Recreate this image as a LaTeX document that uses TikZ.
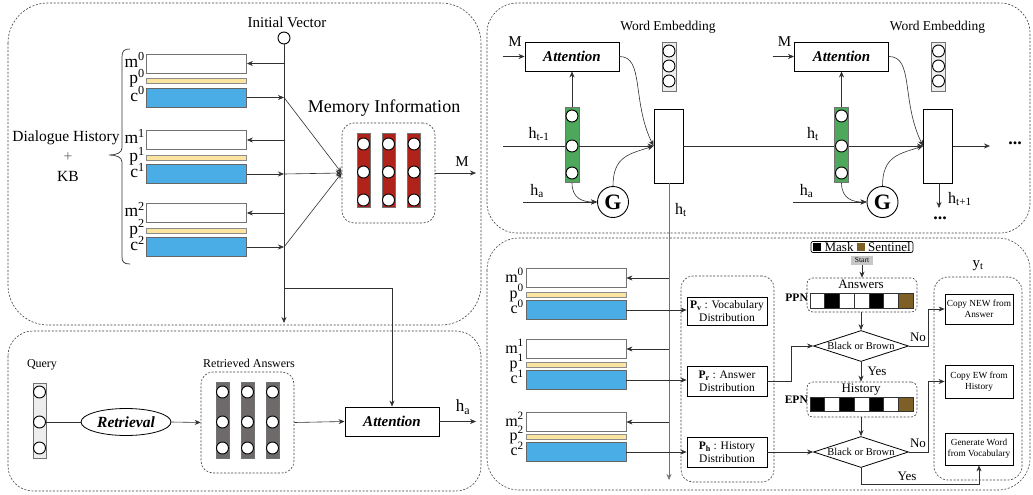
\documentclass[tikz,border=0pt]{standalone}
\usepackage{fontspec}
\setmainfont{Liberation Serif}
\usetikzlibrary{arrows.meta,shapes.geometric}
\definecolor{cblue}{HTML}{4AADE6}
\definecolor{pyel}{HTML}{FBE3A0}
\definecolor{mred}{HTML}{B0231B}
\definecolor{ggreen}{HTML}{4EA85B}
\definecolor{rgray}{HTML}{6E6A6A}
\definecolor{sbrown}{HTML}{7E5F26}
\definecolor{lgray}{HTML}{EDEDED}
\definecolor{lin}{HTML}{303030}
\newcommand\fs[1]{\fontsize{#1}{#1}\selectfont}
\tikzset{
 panel/.style={draw=black!75, line width=0.6pt, dash pattern=on 2pt off 1.6pt},
 dbox/.style={draw=black!75, line width=0.6pt, dash pattern=on 2pt off 1.6pt, rounded corners=12pt, inner sep=0pt},
 mbox/.style={draw=black!55, line width=0.8pt, fill=white, minimum width=100pt, minimum height=19pt, inner sep=0pt},
 pbar/.style={draw=black!45, line width=0.6pt, fill=pyel, minimum width=100pt, minimum height=5pt, inner sep=0pt},
 cbox/.style={draw=black!60, line width=0.8pt, fill=cblue, minimum width=100pt, minimum height=19pt, inner sep=0pt},
 mlab/.style={anchor=base east, inner sep=0pt, font=\fs{17.5}},
 colm/.style={draw=black!55, line width=0.6pt, minimum width=13pt, inner sep=0pt},
 nd/.style={circle, draw=black, line width=0.9pt, fill=white, minimum size=12pt, inner sep=0pt},
 arr/.style={draw=lin, line width=0.6pt, -{Stealth[length=6pt,width=5pt]}},
 ln/.style={draw=lin, line width=0.6pt},
 sbox/.style={draw=black, line width=0.9pt, fill=white, inner sep=0pt},
 att/.style={sbox, minimum width=94pt, minimum height=29pt, font=\fs{15}\bfseries\itshape},
 txt/.style={inner sep=0pt},
 cellsq/.style={draw=black!80, line width=0.6pt, minimum width=14.71pt, inner sep=0pt},
 pbox/.style={sbox, line width=0.8pt, minimum width=80pt, align=center, font=\fontsize{11.5}{13}\selectfont},
 ybox/.style={sbox, line width=0.8pt, minimum width=68pt, align=center, font=\fontsize{9.3}{11}\selectfont},
 dia/.style={diamond, draw=black, line width=0.8pt, aspect=3, inner sep=0pt, minimum width=95pt, minimum height=31pt, font=\fs{10.5}},
}
\begin{document}
\begin{tikzpicture}[x=1pt,y=-1pt]
\useasboundingbox (0,0) rectangle (1033,495);
\fill[white] (0,0) rectangle (1033,495);
% panels
\draw[panel, rounded corners=40pt] (8,3) rectangle (481,325);
\draw[panel, rounded corners=25pt] (8,331) rectangle (481,491);
\draw[panel, rounded corners=30pt] (487,3) rectangle (1030,233);
\draw[panel, rounded corners=32pt] (487,238) rectangle (1030,490);

% ---------------- top-left: memory ----------------
\node[nd] (iv) at (284,38) {};
\node[txt, font=\fs{15}] (ivt) at (287,22) {Initial Vector};
\coordinate (vbot) at (284,323);
\coordinate (br) at (284,288);
\draw[arr] (iv.south) -- (vbot);
\node[dbox, minimum width=93pt, minimum height=100pt] (mem) at (388.5,173) {};
\node[txt, font=\fs{18}] (memt) at (384,108) {Memory Information};
\foreach \x [count=\k] in {363.5,388.5,414}{
  \node[colm, fill=mred, minimum height=74pt] (mc\k) at (\x,170) {};
  \foreach \y [count=\j] in {144,172,200} \node[nd] (mc\k\j) at (\x,\y) {};
}
\foreach \i/\ym/\yp/\yc in {0/63.5/80.5/97.5,1/140/158/174,2/213/230.5/247}{
  \node[mbox] (m\i) at (196.5,\ym) {};
  \node[pbar] (p\i) at (196.5,\yp) {};
  \node[cbox] (c\i) at (196.5,\yc) {};
  \node[mlab] (ml\i) at (145,\ym+3.5) {m\textsuperscript{\i}};
  \node[mlab] (pl\i) at (145,\yp+3.5) {p\textsuperscript{\i}};
  \node[mlab] (cl\i) at (145,\yc+3.5) {c\textsuperscript{\i}};
  \draw[arr] (iv |- m\i.east) -- (m\i.east);
  \draw[arr] (c\i.east) -- (iv |- c\i.east);
  \draw[arr] (iv |- c\i.east) -- (mem.west);
}
\coordinate (Mout) at (476,173);
\draw[arr] (mem.east) -- (Mout);
\node[txt, font=\fs{15}] (Mlab) at (462,162) {M};
\draw[line width=0.7pt, draw=black!80] (130,49) .. controls (124,49) and (122,51) .. (122,57) -- (122,148) .. controls (122,153) and (116,155) .. (109,155) .. controls (116,155) and (122,157) .. (122,162) -- (122,257) .. controls (122,262) and (124,264) .. (130,264);
\node[txt, font=\fs{15.5}] (dh) at (66,138) {Dialogue History};
\node[txt, font=\fs{15.5}, text=black!60] (plus) at (68,157) {+};
\node[txt, font=\fs{15.5}] (kb) at (68,176) {KB};

% ---------------- bottom-left: retrieval ----------------
\node[txt, font=\fs{12}] (qt) at (42,365) {Query};
\node[colm, fill=lgray, minimum height=75pt] (qbar) at (39.5,420.5) {};
\foreach \y [count=\j] in {392,422,448} \node[nd] (q\j) at (39.5,\y) {};
\node[ellipse, draw=black, line width=0.8pt, minimum width=90pt, minimum height=27pt, inner sep=0pt, font=\fs{15.5}\bfseries\itshape] (ret) at (126,422) {Retrieval};
\node[dbox, minimum width=93pt, minimum height=101pt] (ra) at (247.5,422.5) {};
\node[txt, font=\fs{12}] (rat) at (249,363) {Retrieved Answers};
\foreach \x [count=\k] in {222.5,247.5,272.5}{
  \node[colm, fill=rgray, minimum height=76pt] (rc\k) at (\x,420) {};
  \foreach \y [count=\j] in {392,422,448} \node[nd] (rc\k\j) at (\x,\y) {};
}
\node[att] (att0) at (392,421.5) {Attention};
\coordinate (haend) at (476,421.5);
\node[txt, font=\fs{17}] (hab) at (463,407) {h\textsubscript{a}};
\draw[ln] (q2.east) -- (ret.west);
\draw[arr] (ret.east) -- (ra.west);
\draw[arr] (ra.east) -- (att0.west);
\draw[arr] (att0.east) -- (haend);
\draw[arr] (br) -| (att0.north);

% ---------------- top-right: decoder ----------------
\foreach \dx/\k in {0/1,269.5/2}{
  \node[att] (a\k) at (572+\dx,56.5) {Attention};
  \node[txt, font=\fs{15}] (Ml\k) at (515+\dx,42) {M};
  \coordinate (Min\k) at (503+\dx,56.5);
  \node[txt, font=\fs{13.5}] (we\k) at (668+\dx,27) {Word Embedding};
  \node[colm, fill=lgray, minimum width=14pt, minimum height=49pt] (web\k) at (669+\dx,66.5) {};
  \foreach \y [count=\j] in {51,66,81} \node[nd] (we\k\j) at (669+\dx,\y) {};
  \node[colm, fill=ggreen, minimum width=14pt, minimum height=75pt] (gb\k) at (572+\dx,145) {};
  \foreach \y [count=\j] in {116,146,173} \node[nd] (gc\k\j) at (572+\dx,\y) {};
  \node[sbox, minimum width=29pt, minimum height=74pt] (cell\k) at (668.5+\dx,146) {};
  \node[circle, draw=black, line width=0.9pt, fill=white, minimum size=31pt, inner sep=0pt, font=\fs{22}\bfseries] (G\k) at (613+\dx,202) {G};
  \coordinate (ha\k) at (523+\dx,202);
  \node[txt, font=\fs{16}] (hal\k) at (537+\dx,191) {h\textsubscript{a}};
  \draw[arr] (Min\k) -- (a\k.west);
  \draw[arr] (gb\k.north) -- (a\k.south);
  \draw[arr] (a\k.east) .. controls +(25,0) and +(-22,-45) .. (cell\k.west);
  \draw[arr] (gb\k.south) .. controls +(0,16) and +(-14,0) .. (G\k.west);
  \draw[arr] (G\k.north) .. controls +(0,-30) and +(-24,8) .. (cell\k.west);
  \draw[arr] (ha\k) -- (G\k.west);
}
\coordinate (hin) at (503,146);
\draw[ln] (hin) -- (hin -| gb1.west);
\draw[arr] (hin -| gb1.east) -- (cell1.west);
\draw[ln] (cell1.east) -- (hin -| gb2.west);
\draw[arr] (hin -| gb2.east) -- (cell2.west);
\node[txt, font=\fs{16}] (htm) at (539,134) {h\textsubscript{t-1}};
\node[txt, font=\fs{16}] (htl) at (813,134) {h\textsubscript{t}};
\coordinate (out) at (990,146);
\draw[arr] (cell2.east) -- (out);
\node[txt, font=\fs{18}\bfseries] (dots1) at (1015,143) {...};
\coordinate (hn) at (939,208);
\draw[arr] (cell2.south -| hn) -- (hn);
\node[txt, font=\fs{16}] (hnl) at (960,199) {h\textsubscript{t+1}};
\node[txt, font=\fs{18}\bfseries] (dots2) at (940,218) {...};
\coordinate (htend) at (669,480);
\draw[arr, draw=black!55] (cell1.south -| htend) -- (htend);
\node[txt, font=\fs{16}] (htv) at (681,210) {h\textsubscript{t}};

% ---------------- bottom-right: pointer ----------------
\node[dbox, minimum width=93pt, minimum height=206pt] (pd) at (727.5,379) {};
\node[pbox, minimum height=28pt] (Pv) at (727,311) {\textbf{P}\textsubscript{\textbf{v}} : Vocabulary\\Distribution};
\node[pbox, minimum height=30pt] (Pr) at (727,381) {\textbf{P}\textsubscript{\textbf{r}} : Answer\\Distribution};
\node[pbox, minimum height=30pt] (Ph) at (727,452) {\textbf{P}\textsubscript{\textbf{h}} : History\\Distribution};
\foreach \i/\ym/\yp/\yc/\P in {0/278/294.5/310/Pv,1/349/364.5/380/Pr,2/422/436.5/452/Ph}{
  \node[mbox] (mr\i) at (576,\ym) {};
  \node[pbar] (pb\i) at (576,\yp) {};
  \node[cbox] (cr\i) at (576,\yc) {};
  \node[mlab, font=\fs{16}] (mrl\i) at (524,\ym+4) {m\textsuperscript{\i}};
  \node[mlab, font=\fs{16}] (prl\i) at (524,\yp+3.5) {p\textsuperscript{\i}};
  \node[mlab, font=\fs{16}] (crl\i) at (524,\yc+3.5) {c\textsuperscript{\i}};
  \draw[arr] (htend |- mr\i.east) -- (mr\i.east);
  \draw[arr] (cr\i.east) -- (cr\i.east -| \P.west);
}

% legend and start
\node[draw=black, line width=0.7pt, rounded corners=2pt, inner xsep=2pt, inner ysep=0pt, minimum width=102pt, minimum height=11pt, font=\fs{13}] (leg) at (862,247) {\textcolor{black}{\rule{8pt}{8pt}} Mask \textcolor{sbrown}{\rule{8pt}{8pt}} Sentinel};
\node[fill=black!22, minimum width=22pt, minimum height=9.5pt, inner sep=0pt, font=\fs{7.5}] (st) at (862,260.5) {Start};

% answers box
\node[dbox, rounded corners=6pt, minimum width=110pt, minimum height=34pt] (ans) at (862,295) {};
\node[txt, font=\fs{13}] (anst) at (861,284.5) {Answers};
\foreach \c [count=\j from 0] in {white,black,white,white,black,white,sbrown}
  \node[cellsq, fill=\c, minimum height=15pt] (ac\j) at (810+7.36+\j*14.71,300.5) {};
\node[txt, anchor=east, font=\fs{11.5}\bfseries] (ppn) at (808,298) {PPN};
\node[dia] (d1) at (861,346) {Black or Brown};
% history box
\node[dbox, rounded corners=6pt, minimum width=110pt, minimum height=35pt] (hist) at (862,399.5) {};
\node[txt, font=\fs{13}] (histt) at (861,390) {History};
\foreach \c [count=\j from 0] in {black,white,black,white,black,white,sbrown}
  \node[cellsq, fill=\c, minimum height=14pt] (hc\j) at (810+7.36+\j*14.71,404) {};
\node[txt, anchor=east, font=\fs{11.5}\bfseries] (epn) at (808,400) {EPN};
\node[dia] (d2) at (861,452) {Black or Brown};

% output box
\node[dbox, rounded corners=14pt, minimum width=88pt, minimum height=203pt] (ytb) at (978,378.5) {};
\node[txt, font=\fs{15}] (ytl) at (978,266) {y\textsubscript{t}};
\node[ybox, minimum height=30pt] (cn) at (979,309) {Copy NEW from\\Answer};
\node[ybox, minimum height=33pt] (ce) at (979,381.5) {Copy EW from\\History};
\node[ybox, minimum height=32pt] (gw) at (979,449) {Generate Word\\from Vocabulary};

% flow connectors
\draw[arr] (st.south) -- (st.south |- ans.north);
\draw[arr] (ans.south -| d1.north) -- (d1.north);
\draw[arr] (d1.south) -- (hist.north -| d1.south);
\draw[arr] (hist.south -| d2.north) -- (d2.north);
\draw[arr] (d1.east) -- ++(19,0) |- (cn.west);
\draw[arr] (d2.east) -- ++(19,0) |- (ce.west);
\draw[arr] (d2.south) -- ++(0,16) -| (gw.south);
\draw[arr] (Pr.east) -- ++(24,0) |- (d1.west);
\draw[arr] (Ph.east) -- (d2.west);
\node[txt, font=\fs{13}] (no1) at (918,337) {No};
\node[txt, font=\fs{13}] (no2) at (918,443) {No};
\node[txt, font=\fs{13}] (yes1) at (877,371) {Yes};
\node[txt, font=\fs{13}] (yes2) at (907,476) {Yes};
\end{tikzpicture}
\end{document}
